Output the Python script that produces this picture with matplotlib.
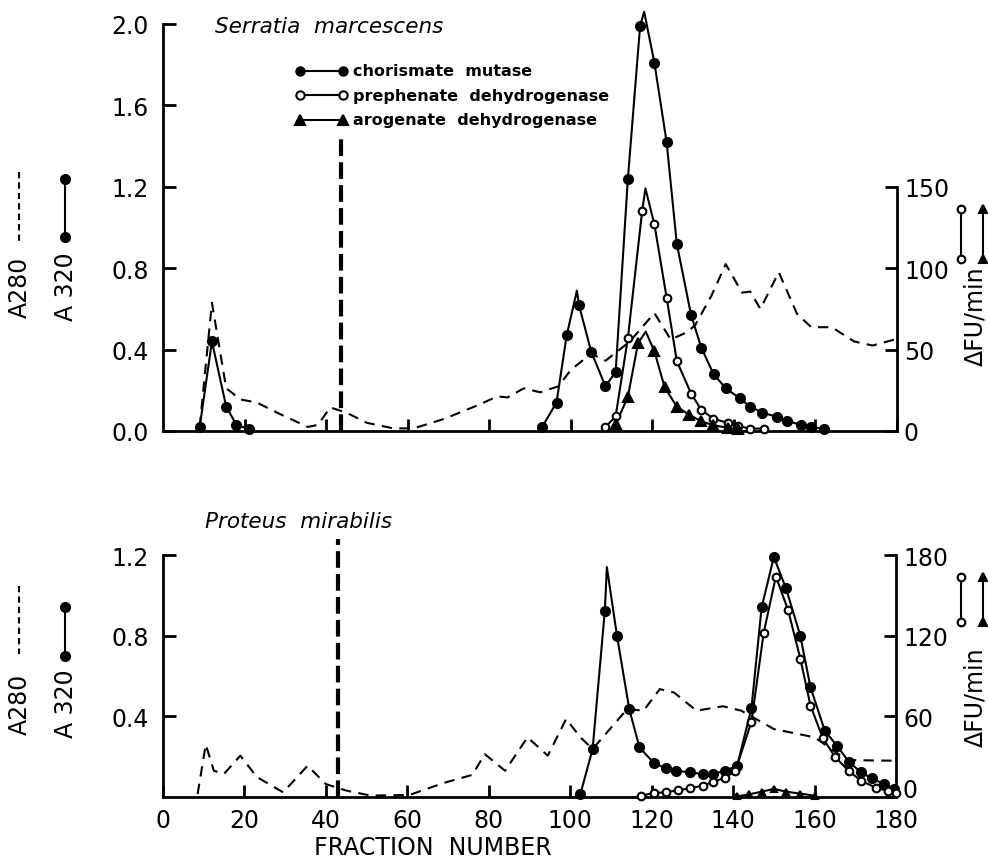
import matplotlib
matplotlib.use("Agg")
import matplotlib.pyplot as plt
from matplotlib.lines import Line2D

# ---- Serratia marcescens (top) ----
# chorismate mutase, A320 (left axis); early peak and main peaks
cm_top_early_x = [9, 12, 15.5, 18, 21]
cm_top_early_y = [0.02, 0.44, 0.12, 0.03, 0.01]
cm_top_x = [93, 96.5, 99, 102, 105, 108.5, 111, 114, 117, 120.5, 123.5, 126, 129.5,
            132, 135, 138, 141.5, 144, 147, 150.5, 153, 156.5, 159, 162]
cm_top_y = [0.02, 0.14, 0.47, 0.62, 0.39, 0.22, 0.29, 1.24, 1.99, 1.81, 1.42, 0.92, 0.57,
            0.41, 0.28, 0.21, 0.16, 0.12, 0.09, 0.07, 0.05, 0.03, 0.02, 0.01]
cm_top_apex_x = [101.5, 118]
cm_top_apex_y = [0.69, 2.06]

# prephenate dehydrogenase, dFU/min (right axis)
pd_top_x = [108.5, 111, 114, 117.5, 120.5, 123.5, 126, 129.5, 132, 135, 138.5, 141, 144, 147.5]
pd_top_y = [2.5, 9, 57, 135, 127, 82, 43, 23, 13, 7.5, 5, 3, 1.5, 1.5]
pd_top_apex_x = [118.3]
pd_top_apex_y = [149]

# arogenate dehydrogenase, dFU/min (right axis)
ad_top_x = [111, 114, 116.5, 120.5, 123, 126, 129, 132, 135, 138.5, 141]
ad_top_y = [4, 21, 54, 49, 27, 15, 10, 6, 3.5, 2, 1]
ad_top_apex_x = [118.4]
ad_top_apex_y = [61]

# A280 protein trace
a280_top_x = [9, 12, 15.5, 19, 23, 28.5, 35.5, 38, 41, 45, 50, 56.5, 61.5, 69, 77, 82, 84.5,
              88.5, 92.5, 97, 100, 105, 108.5, 114.5, 120.5, 124.5, 128.5, 130.5, 134.5, 138,
              142, 144, 146.5, 151, 155.5, 159, 164, 169.5, 174, 179.5]
a280_top_y = [0.02, 0.63, 0.21, 0.155, 0.14, 0.085, 0.02, 0.03, 0.116, 0.09, 0.04, 0.013, 0.013,
              0.06, 0.125, 0.17, 0.165, 0.21, 0.19, 0.22, 0.30, 0.38, 0.345, 0.44, 0.58, 0.45,
              0.485, 0.52, 0.665, 0.82, 0.68, 0.685, 0.60, 0.78, 0.575, 0.51, 0.51, 0.44, 0.42, 0.45]
salt_top_x = 43.7
salt_top_y = 1.445

# ---- Proteus mirabilis (bottom) ----
cm_bot_x = [102.5, 105.5, 108.5, 111.5, 114.5, 117, 120.5, 123.5, 126, 129.5, 132.5, 135, 138,
            141, 144.5, 147, 150, 153, 156.5, 159, 162.5, 165.5, 168.5, 171.5, 174, 177, 179.5]
cm_bot_y = [0.015, 0.238, 0.924, 0.797, 0.436, 0.246, 0.169, 0.142, 0.13, 0.122, 0.114, 0.114,
            0.13, 0.155, 0.44, 0.94, 1.19, 1.034, 0.80, 0.544, 0.329, 0.254, 0.172, 0.122,
            0.093, 0.064, 0.04]
cm_bot_apex_x = [109]
cm_bot_apex_y = [1.14]

pd_bot_x = [117.5, 120.5, 123.5, 126.5, 129.5, 132.5, 135, 138, 140.5, 144.5, 147.5, 150.5,
            153.5, 156.5, 159, 162, 165, 168.5, 171.5, 175, 178, 180]
pd_bot_y = [1, 3, 3.5, 5, 6.5, 8.5, 11, 14.5, 19, 56, 122, 164, 139, 103, 68, 44, 30, 19, 12,
            7, 4.5, 3]

ad_bot_x = [141, 144, 147, 150, 153, 156.5, 160]
ad_bot_y = [0.5, 2, 4, 6, 4, 2.5, 1]

a280_bot_x = [8.5, 10.5, 12.5, 15, 19, 23, 29.5, 35.5, 40, 45, 51, 60.5, 69, 76, 79, 84, 89.5,
              94.5, 99, 102.5, 105.5, 114, 118, 122, 125.5, 131, 137.5, 142, 150, 160, 168, 179.5]
a280_bot_y = [0.015, 0.26, 0.13, 0.115, 0.205, 0.10, 0.023, 0.155, 0.064, 0.032, 0.007, 0.01,
              0.07, 0.11, 0.213, 0.13, 0.296, 0.205, 0.387, 0.296, 0.238, 0.436, 0.428, 0.535,
              0.518, 0.428, 0.45, 0.428, 0.337, 0.296, 0.183, 0.18]
salt_bot_x = 43
salt_bot_y = 1.28

W, H = 988, 862
LW = 1.5
MS = 6.5


def with_apex(xs, ys, ax_, ay_):
    pts = sorted(list(zip(xs, ys)) + list(zip(ax_, ay_)))
    return [p[0] for p in pts], [p[1] for p in pts]


def series(ax, xs, ys, marker, face, apex_x=(), apex_y=(), ms=MS):
    lx, ly = with_apex(xs, ys, apex_x, apex_y)
    ax.plot(lx, ly, color="black", lw=LW, clip_on=False, zorder=3)
    ax.plot(xs, ys, ls="none", marker=marker, ms=ms, mfc=face, mec="black", mew=1.5,
            clip_on=False, zorder=4)


def style(ax, axr, ymax, rmax, rticks, left_ticks, left_labels, show_x):
    ax.set_xlim(0, 180)
    ax.set_ylim(0, ymax)
    axr.set_ylim(0, rmax)
    for s in ("top", "right"):
        ax.spines[s].set_visible(False)
    for s in ("top", "left", "bottom"):
        axr.spines[s].set_visible(False)
    for a in (ax, axr):
        for s in a.spines.values():
            s.set_linewidth(2.0)
    ax.spines["left"].set_bounds(0, ymax)
    ax.spines["bottom"].set_bounds(0, 180)
    axr.spines["right"].set_bounds(0, rticks[-1])
    ax.set_yticks(left_ticks)
    ax.set_yticklabels(left_labels)
    axr.set_yticks(rticks)
    axr.set_yticklabels([str(t) for t in rticks])
    ax.set_xticks(range(0, 181, 20) if show_x else range(20, 181, 20))
    ax.tick_params(axis="both", direction="in", length=9, width=2, labelsize=17)
    ax.tick_params(axis="y", pad=10)
    ax.tick_params(axis="x", pad=8, labelbottom=show_x)
    axr.tick_params(axis="y", direction="in", length=9, width=2, labelsize=17, pad=5)


fig = plt.figure(figsize=(W / 100, H / 100), dpi=100)
ax1 = fig.add_axes([163 / W, 1 - 432 / H, 734 / W, 407 / H])
ax1r = ax1.twinx()
ax2 = fig.add_axes([163 / W, 1 - 798 / H, 733 / W, 242 / H])
ax2r = ax2.twinx()

# top panel
ax1.plot(a280_top_x, a280_top_y, color="black", lw=1.5, ls=(0, (5, 3.5)), zorder=2)
ax1.plot([salt_top_x, salt_top_x], [0, salt_top_y], color="black", lw=3, ls=(0, (4, 1.5)), zorder=2)
series(ax1, cm_top_early_x, cm_top_early_y, "o", "black")
series(ax1, cm_top_x, cm_top_y, "o", "black", cm_top_apex_x, cm_top_apex_y)
series(ax1r, pd_top_x, pd_top_y, "o", "white", pd_top_apex_x, pd_top_apex_y, ms=5.5)
series(ax1r, ad_top_x, ad_top_y, "^", "black", ad_top_apex_x, ad_top_apex_y)
style(ax1, ax1r, 2.0, 250, [0, 50, 100, 150], [0, 0.4, 0.8, 1.2, 1.6, 2.0],
      ["0.0", "0.4", "0.8", "1.2", "1.6", "2.0"], False)

# bottom panel
ax2.plot(a280_bot_x, a280_bot_y, color="black", lw=1.5, ls=(0, (5, 3.5)), zorder=2)
ax2.plot([salt_bot_x, salt_bot_x], [0, salt_bot_y], color="black", lw=3, ls=(0, (4, 1.5)),
         zorder=2, clip_on=False)
series(ax2, cm_bot_x, cm_bot_y, "o", "black", cm_bot_apex_x, cm_bot_apex_y)
series(ax2r, pd_bot_x, pd_bot_y, "o", "white", ms=5.5)
series(ax2r, ad_bot_x, ad_bot_y, "^", "black", ms=5)
style(ax2, ax2r, 1.2, 180, [0, 60, 120, 180], [0.4, 0.8, 1.2], ["0.4", "0.8", "1.2"], True)
# the right-hand "0" sits on the axis line in the original, clear of the "180" below
ax2r.get_yticklabels()[0].set_verticalalignment("baseline")

# titles and axis labels
fig.text(215 / W, 1 - 27 / H, "Serratia  marcescens", fontsize=15.5, style="italic", va="center")
fig.text(205 / W, 1 - 522 / H, "Proteus  mirabilis", fontsize=15.5, style="italic", va="center")
fig.text(433 / W, 1 - 848 / H, "FRACTION  NUMBER", fontsize=17, ha="center", va="center")


def key(x0, x1, y0, y1, marker, face, ls="-", lw=LW, ms=MS):
    fig.add_artist(Line2D([x0 / W, x1 / W], [1 - y0 / H, 1 - y1 / H], transform=fig.transFigure,
                          color="black", lw=lw, ls=ls, marker=marker, ms=ms, mfc=face,
                          mec="black", mew=1.5, clip_on=False))


# legend
legend_rows = [("chorismate  mutase", "o", "black", 72),
               ("prephenate  dehydrogenase", "o", "white", 96),
               ("arogenate  dehydrogenase", "^", "black", 121)]
for label, m, face, y in legend_rows:
    key(300, 343, y, y, m, face, ms=6 if m == "o" else 6.5)
    fig.text(353 / W, 1 - y / H, label, fontsize=11.5, fontweight="bold", va="center")

# left axis labels: A280 dashed, A320 filled circles
for yc, ytop, ybot in [(287, 173, 243), (704, 587, 655)]:
    fig.text(20 / W, 1 - yc / H, "A280", fontsize=17, rotation=90, ha="center", va="center")
    key(19, 19, ytop, ybot, None, "black", ls=(0, (3, 2)), lw=1.5)
    fig.text(66 / W, 1 - yc / H, "A 320", fontsize=17, rotation=90, ha="center", va="center")
for ytop, ybot in [(180, 238), (608, 657)]:
    key(65, 65, ytop, ybot, "o", "black")

# right axis labels
for yc, ytop, ybot in [(316, 210, 260), (697, 578, 623)]:
    fig.text(975 / W, 1 - yc / H, "\u0394FU/min", fontsize=17, rotation=90, ha="center", va="center")
    key(961, 961, ytop, ybot, "o", "white", ms=5.5)
    key(983, 983, ytop, ybot, "^", "black", ms=6)

fig.savefig("out.png", dpi=100)
